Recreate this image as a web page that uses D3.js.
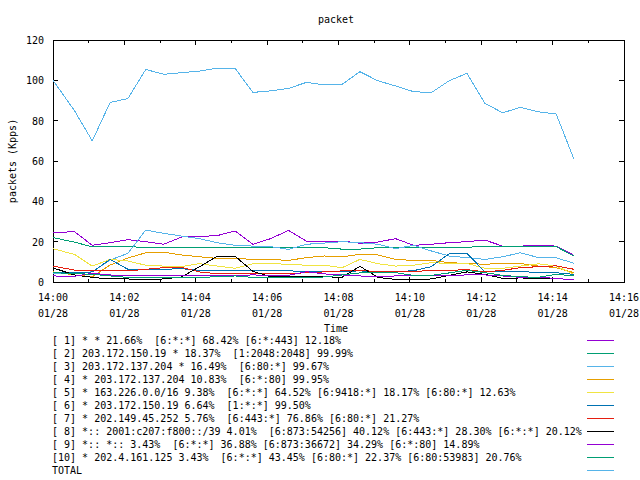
<!DOCTYPE html>
<html>
<head>
<meta charset="utf-8">
<script src="https://cdn.jsdelivr.net/npm/d3@7"></script>
<style>
  body { margin: 0; background: #fff; }
  text { font-family: "DejaVu Sans Mono", "Liberation Mono", monospace; font-size: 10px; fill: #000; white-space: pre; }
</style>
</head>
<body>
<div id="chart"></div>
<script>
// sample times, seconds after 14:00:00 on 01/28
const seconds = [0, 36, 66, 96, 126, 156, 186, 216, 246, 276, 306, 336, 366, 396, 426,
  456, 486, 516, 546, 576, 606, 636, 666, 696, 726, 756, 786, 816, 846, 876]

const labels = [
  '[ 1] * * 21.66%  [6:*:*] 68.42% [6:*:443] 12.18%',
  '[ 2] 203.172.150.19 * 18.37%  [1:2048:2048] 99.99%',
  '[ 3] 203.172.137.204 * 16.49%  [6:80:*] 99.67%',
  '[ 4] * 203.172.137.204 10.83%  [6:*:80] 99.95%',
  '[ 5] * 163.226.0.0/16 9.38%  [6:*:*] 64.52% [6:9418:*] 18.17% [6:80:*] 12.63%',
  '[ 6] * 203.172.150.19 6.64%  [1:*:*] 99.50%',
  '[ 7] * 202.149.45.252 5.76%  [6:443:*] 76.86% [6:80:*] 21.27%',
  '[ 8] *:: 2001:c207:f800::/39 4.01%  [6:873:54256] 40.12% [6:443:*] 28.30% [6:*:*] 20.12%',
  '[ 9] *:: *:: 3.43%  [6:*:*] 36.88% [6:873:36672] 34.29% [6:*:80] 14.89%',
  '[10] * 202.4.161.125 3.43%  [6:*:*] 43.45% [6:80:*] 22.37% [6:80:53983] 20.76%',
  'TOTAL'
]

const colors = ['#9400d3', '#009e73', '#56b4e9', '#e69f00', '#f0e442', '#0072b2',
  '#e51e10', '#000000', '#9400d3', '#009e73', '#56b4e9']

const s1 = [24.4, 25, 18.2, 19.5, 21, 20, 18.7, 22.3, 22.6, 23, 25.3, 18.7, 21.5, 25.6, 20.3,
  20.3, 20.3, 19.2, 19.8, 21.5, 18.2, 18.7, 19.5, 20, 20.8, 17.8, 17.8, 18.2, 17.8, 13.2]
const s2 = [22, 19.8, 17.4, 17.4, 17.4, 17.3, 17.3, 17.2, 17.2, 17.2, 17.2, 17.3, 17.3, 17.2, 17.3,
  17, 16.3, 16.3, 17, 17, 17.2, 17.2, 17.3, 17.3, 17.5, 17.5, 17.5, 17.5, 17.5, 12.9]
const s3 = [4, 4, 5.1, 10.9, 14.2, 25.8, 24.1, 22.8, 21.5, 19.5, 18.2, 17.8, 17.5, 16.2, 18.7,
  19.3, 20, 19.5, 18.7, 16.5, 18.2, 15.4, 12.9, 12.1, 11.2, 12.5, 14.5, 12.1, 12, 9.3]
const s4 = [5, 3.5, 2.6, 8.4, 11.9, 14.5, 14.8, 13.4, 12.5, 11.7, 11.7, 11.2, 11.2, 10.7, 12.1,
  12.9, 12.5, 13.7, 13.4, 11.2, 10.7, 10.7, 9.6, 9.2, 8.8, 9.2, 9.2, 7.9, 7.1, 4.6]
const s5 = [16.5, 13.7, 7.9, 11.2, 10.4, 8.3, 7.9, 7.6, 9.1, 7.9, 6.8, 9, 9.1, 8.8, 8.3,
  8.3, 7.1, 11.2, 9.1, 7.9, 8.3, 9.6, 9.2, 9.2, 6.8, 6.8, 7.9, 9, 7.9, 3.8]
const s6 = [4.6, 4.5, 5, 11.2, 6.3, 6.3, 6.3, 6.6, 5.8, 5.5, 5.5, 5.5, 5.5, 5.5, 5.3,
  5.3, 5.3, 5.5, 5.1, 5.1, 5.6, 7.6, 14, 14.2, 5.1, 5.3, 5.3, 4.6, 4.6, 3.8]
const s7 = [7.9, 5.9, 5.5, 5.5, 5.5, 6.3, 7.1, 7.3, 5, 4.1, 4.1, 4.1, 4.3, 4.1, 4.6,
  5, 5.5, 5.8, 5.1, 5.1, 5.1, 5.8, 5.8, 6.1, 5, 5.8, 7.1, 7.6, 8, 6.3]
const s8 = [7, 3.5, 2.3, 1.5, 1.5, 1.3, 1.5, 2.5, 7.5, 12.8, 12.8, 5.3, 2.6, 2.6, 2.6,
  2.6, 2.3, 7.8, 2.3, 1.3, 1.3, 1.5, 3.3, 5, 3.8, 1.8, 2, 1.8, 1.8, 1]
const s9 = [3, 2.8, 4.3, 3.5, 3, 3, 3.3, 3, 3.3, 3, 3.3, 3.5, 3.3, 3.3, 5.1,
  4, 3.5, 3, 2.6, 3, 3, 3, 3.3, 3.5, 3.5, 3, 2.3, 2.3, 1.8, 1]
const s10 = [4.6, 4.2, 3.8, 3, 2.3, 2.3, 2.3, 2.3, 2.3, 2.6, 3, 2.3, 2.3, 2, 2,
  2.5, 3.5, 4.5, 4.6, 4.6, 3.3, 3.3, 4.5, 5.8, 4.6, 3.3, 2.6, 2.3, 3.8, 3]
const total = [100, 85, 70, 89, 91, 105.4, 103, 103.8, 104.6, 106, 106, 94, 94.8, 96, 99,
  97.7, 98, 104.3, 99.8, 97.2, 94.4, 93.9, 99.8, 103.5, 88.6, 83.9, 86.6, 84.4, 83.3, 60.8]

const series = [s1, s2, s3, s4, s5, s6, s7, s8, s9, s10, total]
const yTicks = [0, 20, 40, 60, 80, 100, 120]

const W = 640, H = 480
const margin = { top: 40, right: 16, bottom: 198, left: 53 }
const width = W - margin.left - margin.right
const height = H - margin.top - margin.bottom

const t0 = Date.UTC(2014, 0, 28, 14, 0, 0)

const svg = d3.select('#chart').append('svg').attr('width', W).attr('height', H)
const g = svg.append('g').attr('transform', `translate(${margin.left},${margin.top})`)

const x = d3.scaleUtc().domain([new Date(t0), new Date(t0 + 16 * 60000)]).range([0, width])
const y = d3.scaleLinear().domain([0, 120]).range([height, 0])

// title and axis labels
svg.append('text').attr('x', 336).attr('y', 23).attr('text-anchor', 'middle').text('packet')
svg.append('text')
  .attr('transform', `translate(16,${margin.top + height / 2}) rotate(-90)`)
  .attr('text-anchor', 'middle')
  .text('packets (Kpps)')
svg.append('text').attr('x', 336).attr('y', 332).attr('text-anchor', 'middle').text('Time')

// ticks, drawn inward on all four sides
const major = d3.utcMinute.every(2).range(x.domain()[0], new Date(t0 + 16 * 60000 + 1))
const minor = d3.utcMinute.every(1).range(x.domain()[0], new Date(t0 + 16 * 60000 + 1))
const tk = g.append('g').attr('stroke', '#000').attr('shape-rendering', 'crispEdges')
minor.forEach((d) => {
  const len = d.getUTCMinutes() % 2 === 0 ? 5 : 3
  tk.append('line').attr('x1', x(d)).attr('x2', x(d)).attr('y1', height).attr('y2', height - len)
  tk.append('line').attr('x1', x(d)).attr('x2', x(d)).attr('y1', 0).attr('y2', len)
})
yTicks.forEach((v) => {
  tk.append('line').attr('x1', 0).attr('x2', 5).attr('y1', y(v)).attr('y2', y(v))
  tk.append('line').attr('x1', width).attr('x2', width - 5).attr('y1', y(v)).attr('y2', y(v))
})

// tick labels
g.selectAll('.ylab').data(yTicks).join('text')
  .attr('class', 'ylab')
  .attr('x', -9).attr('y', (d) => y(d) + 4)
  .attr('text-anchor', 'end')
  .text((d) => d)

const xl = g.selectAll('.xlab').data(major).join('text')
  .attr('class', 'xlab')
  .attr('text-anchor', 'middle')
  .attr('transform', (d) => `translate(${x(d)},${height + 19})`)
xl.append('tspan').attr('x', 0).attr('y', 0).text(d3.utcFormat('%H:%M'))
xl.append('tspan').attr('x', 0).attr('y', 16).text(d3.utcFormat('%m/%d'))

// border
g.append('rect').attr('width', width).attr('height', height)
  .attr('fill', 'none').attr('stroke', '#000').attr('shape-rendering', 'crispEdges')

// lines (aliased, like the gnuplot png terminal)
const line = d3.line()
  .x((d, i) => x(new Date(t0 + seconds[i] * 1000)))
  .y((d) => y(d))

g.selectAll('.series').data(series).join('path')
  .attr('class', 'series')
  .attr('d', (d) => line(d))
  .attr('fill', 'none')
  .attr('stroke', (d, i) => colors[i])
  .attr('stroke-width', 1)
  .attr('shape-rendering', 'crispEdges')

// legend
const leg = svg.append('g').attr('shape-rendering', 'crispEdges')
labels.forEach((l, i) => {
  const yy = 340 + i * 13
  leg.append('text').attr('x', 52).attr('y', yy + 4).text(l)
  leg.append('line').attr('x1', 587).attr('x2', 614).attr('y1', yy + 0.5).attr('y2', yy + 0.5)
    .attr('stroke', colors[i]).attr('stroke-width', 1)
})
</script>
</body>
</html>
